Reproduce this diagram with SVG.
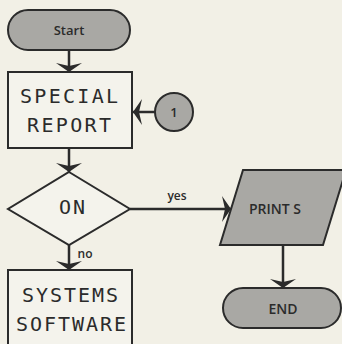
<svg xmlns="http://www.w3.org/2000/svg" width="342" height="344" viewBox="0 0 342 344">
<style>
.bg{fill:#f2f0e6}
.gray{fill:#a9a8a4;stroke:#2b2b2b;stroke-width:2}
.white{fill:#f4f3ec;stroke:#2b2b2b;stroke-width:2}
.line{fill:none;stroke:#2b2b2b;stroke-width:2.5}
.mono{font-family:"DejaVu Sans Mono","Liberation Mono",monospace;font-size:20px;fill:#2b2b2b;text-anchor:middle}
.sans{font-family:"Open Sans","Lato","Liberation Sans",sans-serif;font-weight:600;fill:#2b2b2b;text-anchor:middle}
</style>
<defs>
<marker id="ah" viewBox="0 0 9 26" refX="9" refY="13" markerWidth="9" markerHeight="26" markerUnits="userSpaceOnUse" orient="auto">
<path d="M9,13 L0,0 L3,13 L0,26 Z" fill="#2b2b2b"/>
</marker>
</defs>
<rect class="bg" x="0" y="0" width="342" height="344"/>
<g id="connectors">
<line class="line" x1="69" y1="50" x2="69" y2="72" marker-end="url(#ah)"/>
<line class="line" x1="155" y1="112" x2="133" y2="112" marker-end="url(#ah)"/>
<line class="line" x1="69" y1="148" x2="69" y2="172" marker-end="url(#ah)"/>
<line class="line" x1="69" y1="245" x2="69" y2="270" marker-end="url(#ah)"/>
<line class="line" x1="130" y1="209" x2="231" y2="209" marker-end="url(#ah)"/>
<line class="line" x1="283" y1="245" x2="283" y2="288" marker-end="url(#ah)"/>
<text class="sans" x="177" y="200" font-size="12">yes</text>
<text class="sans" x="85" y="258" font-size="12">no</text>
</g>
<g id="start">
<rect class="gray" x="8" y="10" width="122" height="40" rx="20"/>
<text class="sans" x="69" y="35" font-size="13">Start</text>
</g>
<g id="special-report">
<rect class="white" x="8" y="72" width="124" height="76"/>
<text class="mono" x="69" y="103" textLength="98" lengthAdjust="spacing">SPECIAL</text>
<text class="mono" x="69" y="132" textLength="84" lengthAdjust="spacing">REPORT</text>
</g>
<g id="connector-1">
<circle class="gray" cx="174" cy="112" r="19"/>
<text class="sans" x="174" y="117" font-size="13">1</text>
</g>
<g id="on">
<polygon class="white" points="69,172 130,209 69,245 8,209"/>
<text class="mono" x="72" y="214" textLength="26" lengthAdjust="spacing">ON</text>
</g>
<g id="systems-software">
<rect class="white" x="8" y="270" width="124" height="80"/>
<text class="mono" x="70" y="302" textLength="96" lengthAdjust="spacing">SYSTEMS</text>
<text class="mono" x="71" y="331" textLength="110" lengthAdjust="spacing">SOFTWARE</text>
</g>
<g id="print-s">
<polygon class="gray" points="243,170 346,170 323,245 220,245"/>
<text class="sans" x="275" y="214" font-size="14">PRINT S</text>
</g>
<g id="end">
<rect class="gray" x="223" y="288" width="118" height="40" rx="20"/>
<text class="sans" x="283" y="314" font-size="14">END</text>
</g>
</svg>
